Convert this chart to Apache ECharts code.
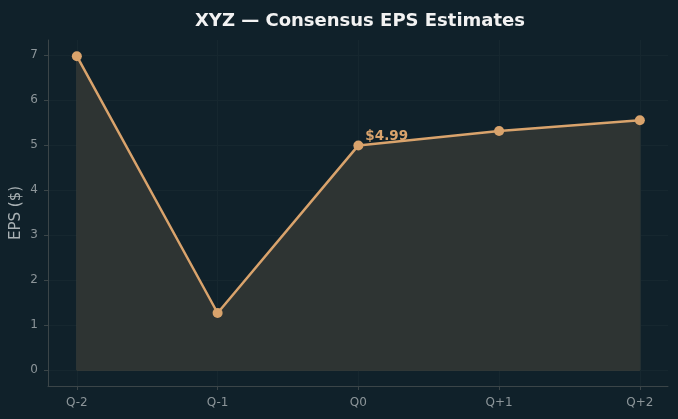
<!DOCTYPE html>
<html>
<head>
<meta charset="utf-8">
<script src="https://cdn.jsdelivr.net/npm/echarts@6/dist/echarts.min.js"></script>
<style>
  html, body { margin: 0; padding: 0; background: #10212a; }
  #chart { width: 678px; height: 419px; }
</style>
</head>
<body>
<div id="chart"></div>
<script>
// data
const quarters = ['Q-2', 'Q-1', 'Q0', 'Q+1', 'Q+2']
const eps = [6.97, 1.27, 4.99, 5.31, 5.55]
const yTicks = [0, 1, 2, 3, 4, 5, 6, 7]
const labelIndex = 2

const chart = echarts.init(document.getElementById('chart'))

const points = eps.map((v, i) => {
    const item = { value: [i, v] }
    if (i === labelIndex) {
        item.label = {
            show: true,
            formatter: '$' + v.toFixed(2),
            position: [12, -11],
            align: 'left',
            verticalAlign: 'top',
            color: '#d9a36c',
            fontWeight: 'bold',
            fontSize: 13.5,
            fontFamily: 'DejaVu Sans'
        }
    }
    return item
})

// outline of the filled area (edge of the fill polygon)
const last = eps.length - 1
const edge = [[0, eps[0]], [0, 0], [last, 0], [last, eps[last]]]

const axisCol = '#3b4548'
const gridCol = '#16272f'
const tickText = '#8c9599'

const option = {
    backgroundColor: '#10212a',
    animation: false,
    title: {
        text: 'XYZ — Consensus EPS Estimates',
        left: 355,
        textAlign: 'center',
        top: 7,
        textStyle: { color: '#f2f2f2', fontSize: 18, fontWeight: 'bold', fontFamily: 'DejaVu Sans' }
    },
    grid: { left: 48, right: 10, top: 40, bottom: 33, containLabel: false, outerBoundsMode: 'none' },
    xAxis: {
        type: 'value',
        min: -0.205,
        max: last + 0.2,
        axisLine: { show: true, onZero: false, lineStyle: { color: axisCol } },
        axisTick: { show: true, length: 4, lineStyle: { color: axisCol }, customValues: quarters.map((q, i) => i) },
        axisLabel: {
            customValues: quarters.map((q, i) => i),
            formatter: v => quarters[Math.round(v)],
            color: tickText, fontSize: 12, fontFamily: 'DejaVu Sans', margin: 11
        },
        splitLine: { show: true, lineStyle: { color: gridCol, width: 1 } }
    },
    yAxis: {
        type: 'value',
        min: -0.35,
        max: 7.33,
        name: 'EPS ($)',
        nameLocation: 'middle',
        nameGap: 24,
        nameMoveOverlap: false,
        nameTextStyle: { color: '#a9b1b4', fontSize: 15, fontFamily: 'DejaVu Sans' },
        axisLine: { show: true, onZero: false, lineStyle: { color: axisCol } },
        axisTick: { show: true, length: 4, lineStyle: { color: axisCol }, customValues: yTicks },
        axisLabel: {
            customValues: yTicks,
            color: tickText, fontSize: 12, fontFamily: 'DejaVu Sans', margin: 10
        },
        splitLine: { show: true, lineStyle: { color: gridCol, width: 1 } }
    },
    series: [
        {
            type: 'line',
            data: edge,
            symbol: 'none',
            silent: true,
            lineStyle: { color: '#3d403c', width: 1 },
            z: 1
        },
        {
            type: 'line',
            data: points,
            symbol: 'circle',
            symbolSize: 10,
            itemStyle: { color: '#d9a36c' },
            lineStyle: { color: '#d9a36c', width: 2.5 },
            areaStyle: { color: '#2e3433', opacity: 1, origin: 0 },
            z: 3
        }
    ]
}

chart.setOption(option)
</script>
</body>
</html>
